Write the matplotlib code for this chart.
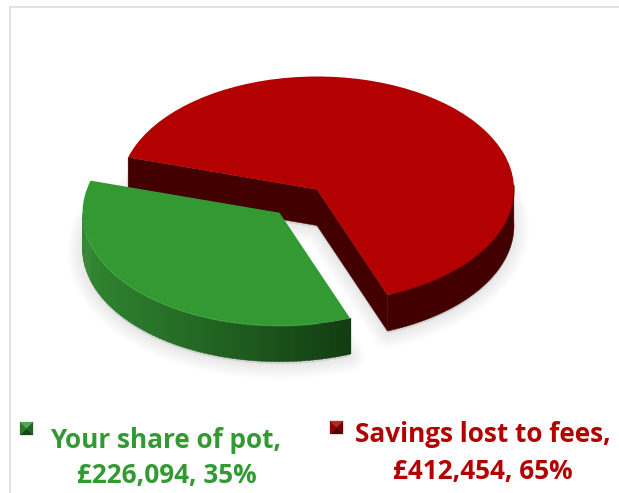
import numpy as np
import matplotlib
matplotlib.use("Agg")
import matplotlib.pyplot as plt
from matplotlib.patches import Polygon
from matplotlib.colors import to_rgb

# Pie data
categories = ["Your share of pot", "Savings lost to fees"]
amounts = [226094, 412454]
percents = [35, 65]
face_colors = ["#339933", "#B30000"]
side_dark = {"green_left": "#2F8530", "green_right": "#123C12", "red": "#420000"}

W, H = 619, 493
CX, CY, RX, RY = 317.0, 189.5, 197.0, 113.0
DEPTH = 36.0 / RY

fig = plt.figure(figsize=(W / 100, H / 100), dpi=100, facecolor="white")
ax = fig.add_axes([0, 0, 1, 1])

wedges, _ = ax.pie(amounts, colors=face_colors, startangle=163.5,
                   explode=(0.28, 0), radius=1, counterclock=True,
                   wedgeprops={"linewidth": 0, "zorder": 6})
ax.set_aspect("auto")
ax.set_xlim(-CX / RX, (W - CX) / RX)
ax.set_ylim((CY - H) / RY, CY / RY)
ax.axis("off")


def arc(w, a0=None, a1=None, n=160):
    a0 = w.theta1 if a0 is None else a0
    a1 = w.theta2 if a1 is None else a1
    t = np.radians(np.linspace(a0, a1, n))
    return w.center[0] + w.r * np.cos(t), w.center[1] + w.r * np.sin(t)


def mix(c0, c1, f):
    return tuple((1 - f) * np.array(to_rgb(c0)) + f * np.array(to_rgb(c1)))


green, red = wedges

# Soft drop shadow under both slices
for w in wedges:
    xs, ys = arc(w)
    outline = np.column_stack([np.r_[w.center[0], xs], np.r_[w.center[1], ys] - DEPTH - 0.02])
    for lw in np.linspace(22, 2, 11):
        ax.add_patch(Polygon(outline, closed=True, fc="#808080", ec="#808080",
                             lw=lw, alpha=0.012, joinstyle="round", zorder=1))

# Red slice walls: both cut faces and the visible part of the rim
cx0, cy0 = red.center
for a in (red.theta2, red.theta1):
    t = np.radians(a)
    px = cx0 + np.cos(t)
    py = cy0 + np.sin(t)
    ax.add_patch(Polygon([(cx0, cy0), (px, py), (px, py - DEPTH), (cx0, cy0 - DEPTH)],
                         closed=True, fc=side_dark["red"], ec=side_dark["red"], lw=0.3, zorder=3))
xs, ys = arc(red, red.theta1, 362)
ax.add_patch(Polygon(np.column_stack([np.r_[xs, xs[::-1]], np.r_[ys, ys[::-1] - DEPTH]]),
                     closed=True, fc=side_dark["red"], ec=side_dark["red"], lw=0.3, zorder=3))

# Green rim, shaded from left to right in narrow strips
a_edges = np.linspace(180, green.theta2, 90)
x_left = green.center[0] - 1
x_right = green.center[0] + np.cos(np.radians(green.theta2))
for i in range(len(a_edges) - 1):
    xs, ys = arc(green, a_edges[i], a_edges[i + 1] + 0.3, n=5)
    f = (xs.mean() - x_left) / (x_right - x_left)
    col = mix(side_dark["green_left"], side_dark["green_right"], min(max(f, 0), 1) ** 1.1)
    ax.add_patch(Polygon(np.column_stack([np.r_[xs, xs[::-1]], np.r_[ys, ys[::-1] - DEPTH]]),
                         closed=True, fc=col, ec=col, lw=0.2, zorder=5))

# Bevel highlight along the front edge of the green face
xs, ys = arc(green, 190, green.theta2 - 10)
ax.plot(xs, ys, color="#46A846", lw=0.9, alpha=0.7, zorder=7)
# Darker edge along the front of the red face
xs, ys = arc(red, red.theta1 + 2, 362)
ax.plot(xs, ys, color="#7A0000", lw=0.9, alpha=0.7, zorder=7)

# Figure coordinates for the frame, keys and captions
overlay = fig.add_axes([0, 0, 1, 1], facecolor="none")
overlay.set_xlim(0, W)
overlay.set_ylim(H, 0)
overlay.axis("off")
overlay.plot([10, 10, W], [H, 7, 7], color="#DCDCDC", lw=1.2, solid_joinstyle="miter")


def bevel_key(x, y, size, base):
    """Small square key with a pyramid bevel."""
    mx, my = x + size / 2, y + size / 2
    corners = [(x, y), (x + size, y), (x + size, y + size), (x, y + size)]
    shades = [mix(base, "#FFFFFF", 0.15), mix(base, "#000000", 0.35),
              mix(base, "#000000", 0.55), mix(base, "#000000", 0.2)]
    for i in range(4):
        overlay.add_patch(Polygon([corners[i], corners[(i + 1) % 4], (mx, my)], closed=True,
                                  fc=shades[i], ec=shades[i], lw=0.2))


bevel_key(20, 422, 13, face_colors[0])
bevel_key(330, 421, 13, face_colors[1])

font = dict(family="Open Sans", fontweight="bold", fontsize=18.8, ha="center", va="center")
overlay.text(166, 441, f"{categories[0]},", color=face_colors[0], **font)
overlay.text(167, 476, f"£{amounts[0]:,}, {percents[0]}%", color=face_colors[0], **font)
overlay.text(483, 434, f"{categories[1]},", color=face_colors[1], **font)
overlay.text(483, 471, f"£{amounts[1]:,}, {percents[1]}%", color=face_colors[1], **font)

fig.savefig("out.png", dpi=100, facecolor="white")
